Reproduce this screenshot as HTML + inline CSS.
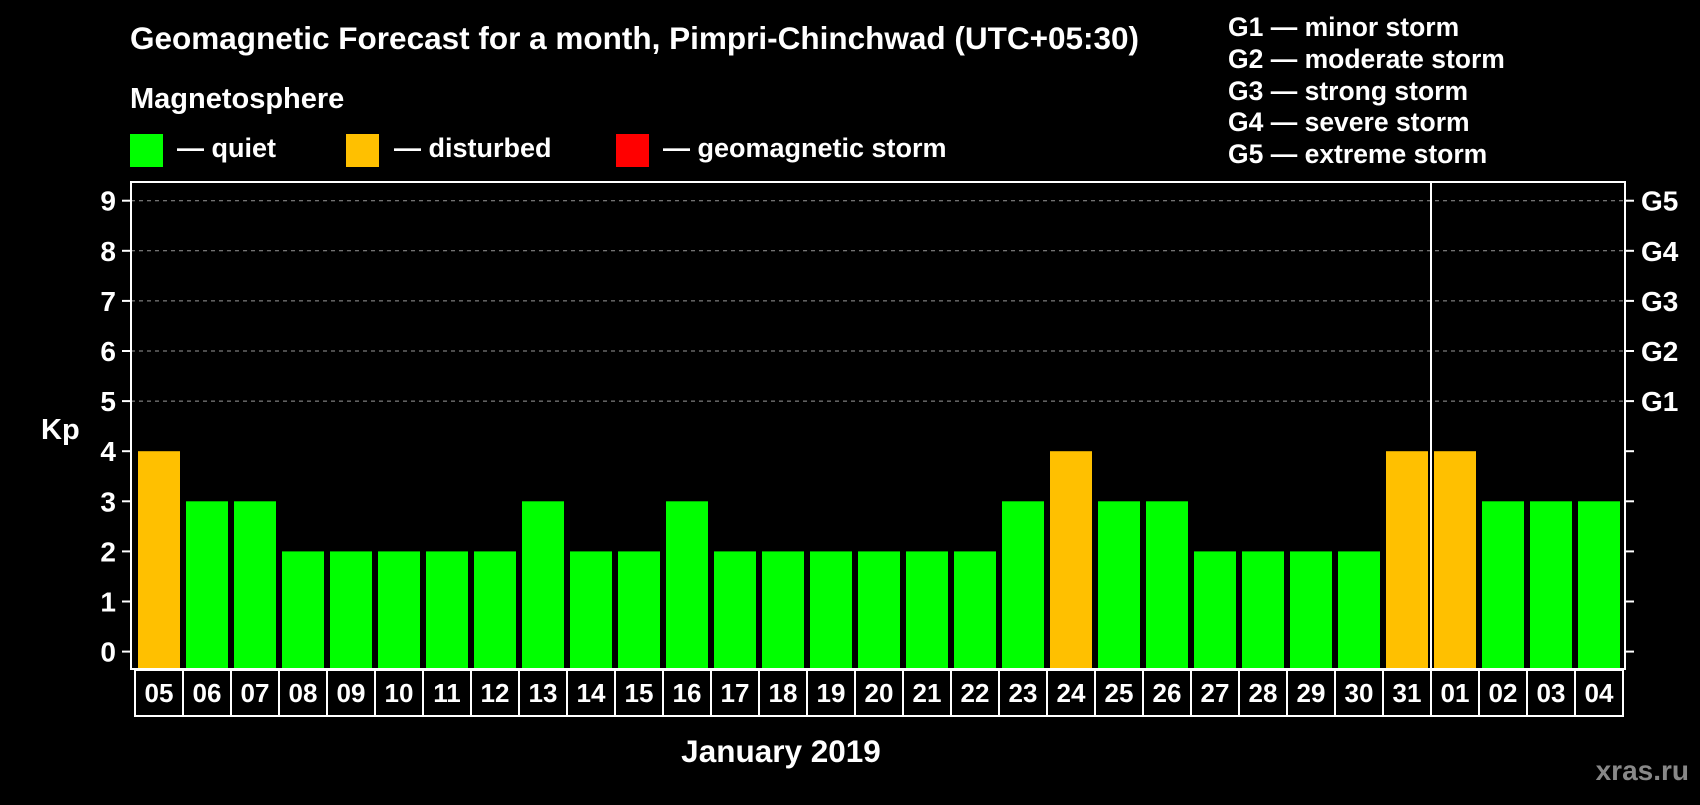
<!DOCTYPE html>
<html><head><meta charset="utf-8"><style>
body{margin:0;background:#000;width:1700px;height:800px;overflow:hidden}
svg text{font-family:"Liberation Sans",sans-serif;font-weight:bold;fill:#fff}
</style></head><body>
<svg id="chart" width="1700" height="800" xmlns="http://www.w3.org/2000/svg">
<text x="130" y="49" font-size="31.5">Geomagnetic Forecast for a month, Pimpri-Chinchwad (UTC+05:30)</text>
<text x="130" y="108" font-size="29">Magnetosphere</text>
<rect x="130" y="134" width="33" height="33" fill="#00ff00"/>
<text x="177" y="157" font-size="27">— quiet</text>
<rect x="346" y="134" width="33" height="33" fill="#ffc000"/>
<text x="394" y="157" font-size="27">— disturbed</text>
<rect x="616" y="134" width="33" height="33" fill="#ff0000"/>
<text x="663" y="157" font-size="27">— geomagnetic storm</text>
<g font-size="26.5">
<text x="1228" y="36">G1 — minor storm</text>
<text x="1228" y="68">G2 — moderate storm</text>
<text x="1228" y="100">G3 — strong storm</text>
<text x="1228" y="131">G4 — severe storm</text>
<text x="1228" y="163">G5 — extreme storm</text>
</g>
<text x="41" y="439" font-size="29">Kp</text>
<text x="781" y="762" font-size="31.5" text-anchor="middle">January 2019</text>
<text x="1689" y="780" font-size="28" text-anchor="end" style="fill:#888">xras.ru</text>
<g id="grid"></g><g id="bars"></g><g id="axes"></g>
</svg>
<script>
const days=["05","06","07","08","09","10","11","12","13","14","15","16","17","18","19","20","21","22","23","24","25","26","27","28","29","30","31","01","02","03","04"];
const kp=[4,3,3,2,2,2,2,2,3,2,2,3,2,2,2,2,2,2,3,4,3,3,2,2,2,2,4,4,3,3,3];
const yTicks=[0,1,2,3,4,5,6,7,8,9];
const gLabels=["","","","","","G1","G2","G3","G4","G5"];
const monthBreakIndex=27;
const NS="http://www.w3.org/2000/svg";
const L=131,R=1625,T=182,B=669,X0=135,STEP=48;
const y=v=>651.6-v*50.1;
const x=i=>X0+i*STEP;
function mk(tag,attrs,parent,txt){const e=document.createElementNS(NS,tag);for(const k in attrs)e.setAttribute(k,attrs[k]);if(txt!==undefined)e.textContent=txt;parent.appendChild(e);return e;}
const grid=document.getElementById('grid'),bars=document.getElementById('bars'),axes=document.getElementById('axes');
yTicks.forEach((t,i)=>{
 if(t>=5){const g=mk('line',{x1:L,x2:R,y1:y(t),y2:y(t),stroke:'#999','stroke-dasharray':'4,4','stroke-width':1},grid);
 
 }
 const tl=mk('line',{x1:122,x2:L,y1:y(t),y2:y(t),stroke:'#fff','stroke-width':2},axes);
 
 
 const tr=mk('line',{x1:R,x2:1634,y1:y(t),y2:y(t),stroke:'#fff','stroke-width':2},axes);
 
 
 const lb=mk('text',{x:116,y:y(t)+10,'font-size':28,'text-anchor':'end'},axes,String(t));
 
 
 if(gLabels[i]){const gl=mk('text',{x:1641,y:y(t)+10,'font-size':28},axes,gLabels[i]);
 
 }
});
kp.forEach((v,i)=>{
 const c=v>=5?'#ff0000':(v>=4?'#ffc000':'#00ff00');
 const b=mk('rect',{x:x(i)+3,y:y(v),width:42,height:B-y(v),fill:c},bars);
 
 
 const bx=mk('rect',{x:x(i),y:670,width:STEP,height:46,fill:'none',stroke:'#fff','stroke-width':2},axes);
 
 
 const dl=mk('text',{x:x(i)+STEP/2,y:702,'font-size':26,'text-anchor':'middle'},axes,days[i]);
 
 
});
const fr=mk('rect',{x:L,y:T,width:R-L,height:B-T,fill:'none',stroke:'#fff','stroke-width':2},axes);


const sep=mk('line',{x1:x(monthBreakIndex),x2:x(monthBreakIndex),y1:T,y2:B,stroke:'#fff','stroke-width':2},axes);


</script>
</body></html>
